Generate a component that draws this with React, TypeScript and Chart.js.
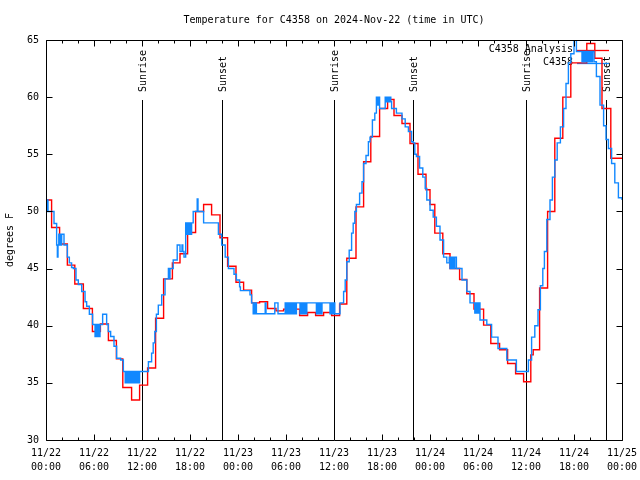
import React, { useEffect, useRef } from "react";
import { Chart, registerables } from "chart.js";

Chart.register(...registerables);

// ---- Data (hours since 2024-11-22 00:00 UTC, degrees F) ----
const dayLabels = ["11/22", "11/22", "11/22", "11/22", "11/23", "11/23", "11/23", "11/23", "11/24", "11/24", "11/24", "11/24", "11/25"];
const timeLabels = ["00:00", "06:00", "12:00", "18:00", "00:00", "06:00", "12:00", "18:00", "00:00", "06:00", "12:00", "18:00", "00:00"];

const sunriseHours = [12.03, 36.03, 60.05];
const sunsetHours = [22.03, 45.93, 69.95];

// C4358 Analysis (red)
const analysisHours = [0, 0.7, 1.7, 2.67, 3.6, 4.67, 5.8, 6.8, 7.8, 8.8, 9.6, 10.7, 11.7, 12.7, 13.7, 14.7, 15.8, 16.75, 17.7, 18.7, 19.7, 20.7, 21.75, 22.7, 23.75, 24.7, 25.7, 26.7, 27.7, 28.75, 29.7, 31.7, 32.7, 33.7, 34.7, 35.7, 36.7, 37.6, 38.75, 39.7, 40.6, 41.7, 42.7, 43.5, 44.5, 45.5, 46.5, 47.5, 48.0, 48.6, 49.6, 50.5, 51.7, 52.6, 53.5, 54.7, 55.6, 56.7, 57.7, 58.7, 59.7, 60.6, 60.9, 61.7, 62.7, 63.6, 64.6, 65.6, 67.6, 68.6, 69.5, 70.6, 72];
const analysisTemps = [51.0, 48.6, 47.15, 45.3, 43.65, 41.5, 39.5, 40.15, 38.7, 37.1, 34.6, 33.5, 34.8, 36.3, 40.65, 44.1, 45.5, 46.3, 48.15, 50.0, 50.6, 49.7, 47.7, 45.2, 43.8, 43.1, 42.0, 42.1, 41.5, 41.3, 41.45, 40.9, 41.15, 40.9, 41.15, 40.9, 41.9, 45.9, 50.4, 54.35, 56.55, 59.0, 59.8, 58.4, 57.7, 55.95, 53.25, 51.9, 50.6, 48.1, 46.3, 45.0, 44.05, 42.8, 41.45, 40.05, 38.45, 37.9, 36.7, 35.8, 35.1, 37.45, 37.9, 43.3, 50.0, 56.4, 60.0, 63.0, 64.7, 63.4, 59.0, 54.65, 54.65];

// C4358 observations (blue): [hour, temp]
const observed: [number, number][] = [
  [0, 51.0], [0.12, 50.0], [0.17, 51.0], [0.25, 50.0],
  [1.0, 48.95], [1.33, 47.06], [1.42, 46.0], [1.5, 47.06], [1.6, 48.0], [1.68, 47.06], [1.8, 48.0], [1.88, 47.06], [1.96, 48.0],
  [2.25, 47.06], [2.67, 46.0], [2.92, 45.5], [3.2, 45.1], [3.42, 45.0], [3.75, 44.0], [4.04, 43.6], [4.46, 43.0], [4.88, 42.1],
  [5.08, 41.7], [5.42, 41.0], [5.83, 40.1], [6.13, 39.05], [6.25, 40.1], [6.38, 39.05], [6.5, 40.1], [6.62, 39.05], [6.75, 40.1],
  [7.08, 41.0], [7.58, 40.1], [7.79, 39.5], [8.08, 39.05], [8.5, 38.2], [8.83, 37.15], [9.33, 37.0], [9.67, 36.0],
  [9.9, 35.0], [10.0, 36.0], [10.12, 35.0], [10.2, 36.0], [10.35, 35.0], [10.45, 36.0], [10.6, 35.0], [10.7, 36.0],
  [10.85, 35.0], [10.95, 36.0], [11.1, 35.0], [11.2, 36.0], [11.35, 35.0], [11.45, 36.0], [11.6, 35.0], [11.7, 36.0],
  [12.8, 36.85], [13.2, 37.6], [13.4, 38.5], [13.6, 39.5], [13.8, 41.0], [14.04, 41.8], [14.46, 42.7], [14.88, 44.1],
  [15.3, 45.0], [15.4, 44.1], [15.5, 45.0], [15.9, 45.75], [16.4, 47.06], [16.75, 46.5], [17.0, 47.06], [17.1, 46.5], [17.25, 46.0],
  [17.46, 49.0], [17.6, 48.0], [17.7, 49.0], [17.85, 48.0], [17.95, 49.0], [18.1, 48.0], [18.2, 49.0], [18.4, 50.0],
  [18.9, 51.1], [19.0, 50.0], [19.7, 49.0], [21.55, 48.0], [21.96, 47.06], [22.4, 46.0], [22.8, 45.0], [23.5, 44.5],
  [23.8, 44.0], [24.2, 43.4], [24.3, 43.07], [25.5, 42.7], [25.7, 42.0],
  [25.9, 41.05], [26.0, 42.0], [26.1, 41.05], [26.2, 42.0], [26.3, 41.05],
  [27.4, 42.0], [27.5, 41.05], [28.6, 42.0], [29.0, 41.05],
  [29.9, 42.0], [30.0, 41.05], [30.1, 42.0], [30.2, 41.05], [30.3, 42.0], [30.4, 41.05], [30.5, 42.0], [30.6, 41.05],
  [30.7, 42.0], [30.8, 41.05], [30.9, 42.0], [31.0, 41.05], [31.1, 42.0], [31.2, 41.05], [31.3, 42.0],
  [31.75, 41.05], [31.85, 42.0], [31.95, 41.05], [32.05, 42.0], [32.15, 41.05], [32.25, 42.0], [32.35, 41.05], [32.45, 42.0], [32.55, 41.05], [32.6, 42.0],
  [33.8, 41.05], [33.9, 42.0], [34.0, 41.05], [34.1, 42.0], [34.2, 41.05], [34.3, 42.0], [34.4, 41.05], [34.5, 42.0],
  [35.5, 41.05], [35.6, 42.0], [35.7, 41.05], [35.8, 42.0], [35.9, 41.05], [36.0, 42.0], [36.1, 41.05],
  [36.75, 42.0], [37.2, 43.0], [37.4, 44.0], [37.6, 45.6], [37.9, 46.6], [38.2, 48.1], [38.4, 48.96], [38.6, 50.0],
  [38.8, 50.6], [39.2, 51.6], [39.5, 52.6], [39.7, 54.2], [40.0, 54.9], [40.3, 56.1], [40.5, 56.5], [40.8, 58.0],
  [41.1, 58.6], [41.3, 60.0], [41.45, 59.3], [41.55, 60.0], [41.7, 59.0],
  [42.4, 60.0], [42.5, 59.6], [42.6, 60.0], [42.7, 59.6], [42.8, 60.0], [42.9, 59.6], [43.0, 60.0], [43.1, 59.6],
  [43.2, 59.0], [43.8, 58.6], [44.5, 58.1], [44.9, 57.4], [45.3, 57.0], [45.7, 56.1], [45.9, 56.0], [46.1, 55.0],
  [46.3, 54.8], [46.7, 53.8], [47.1, 53.0], [47.4, 52.0], [47.6, 51.0], [48.0, 50.1], [48.4, 49.5], [48.8, 48.7],
  [49.25, 47.5], [49.7, 46.0], [50.1, 45.5], [50.4, 46.0], [50.5, 45.0], [50.6, 46.0], [50.75, 45.0], [50.85, 46.0],
  [51.0, 45.0], [51.1, 46.0], [51.3, 45.0], [52.0, 44.0], [52.6, 43.0], [53.0, 42.0],
  [53.6, 41.1], [53.7, 42.0], [53.8, 41.1], [53.9, 42.0], [54.0, 41.1], [54.1, 42.0], [54.25, 40.5],
  [55.1, 40.1], [55.7, 39.0], [56.5, 38.0], [57.6, 37.0], [58.8, 36.0], [60.3, 37.0], [60.7, 39.0], [61.1, 40.0],
  [61.5, 41.4], [61.8, 43.5], [62.1, 45.0], [62.3, 46.5], [62.6, 49.3], [63.0, 51.0], [63.3, 53.0], [63.6, 54.5],
  [63.9, 56.0], [64.3, 57.4], [64.7, 59.0], [65.0, 61.2], [65.3, 63.0], [65.6, 63.8], [66.0, 66.0], [66.3, 64.0],
  [67.0, 63.1], [67.1, 64.0], [67.2, 63.1], [67.3, 64.0], [67.4, 63.1], [67.5, 64.0], [67.6, 63.1], [67.7, 64.0],
  [67.8, 63.1], [67.9, 64.0], [68.0, 63.1], [68.1, 64.0], [68.2, 63.1], [68.3, 64.0], [68.5, 63.1],
  [68.8, 61.8], [69.25, 59.3], [69.7, 57.5], [70.0, 56.3], [70.3, 55.5], [70.7, 54.2], [71.1, 52.5], [71.55, 51.2], [72.0, 51.0],
];

const FONT = '10px "DejaVu Sans Mono", monospace';
const RED = "#ff0000";
const BLUE = "#1188ff";

const gnuplotDecor = {
  id: "gnuplotDecor",
  beforeDatasetsDraw(chart: any) {
    const { ctx, chartArea: a, scales } = chart;
    const xs = scales.x;
    ctx.save();
    ctx.strokeStyle = "#000";
    ctx.fillStyle = "#000";
    ctx.lineWidth = 1;
    ctx.font = FONT;
    const marks: [number, string][] = [
      ...sunriseHours.map((h) => [h, "Sunrise"] as [number, string]),
      ...sunsetHours.map((h) => [h, "Sunset"] as [number, string]),
    ];
    for (const [h, label] of marks) {
      const px = Math.round(xs.getPixelForValue(h)) + 0.5;
      ctx.beginPath();
      ctx.moveTo(px, a.top + 60);
      ctx.lineTo(px, a.bottom);
      ctx.stroke();
      ctx.save();
      ctx.translate(px + 1, a.top + 52);
      ctx.rotate(-Math.PI / 2);
      ctx.textAlign = "left";
      ctx.textBaseline = "middle";
      ctx.fillText(label, 0, 0);
      ctx.restore();
    }
    // key
    chart.data.datasets.forEach((ds: any, i: number) => {
      const y = a.top + 9.5 + i * 13;
      ctx.textAlign = "right";
      ctx.textBaseline = "middle";
      ctx.fillStyle = "#000";
      ctx.fillText(ds.label, a.right - 49, y);
      ctx.strokeStyle = ds.borderColor;
      ctx.lineWidth = 1.3;
      ctx.beginPath();
      ctx.moveTo(a.right - 45, Math.round(y) + 0.5);
      ctx.lineTo(a.right - 13, Math.round(y) + 0.5);
      ctx.stroke();
    });
    ctx.restore();
  },
  afterDatasetsDraw(chart: any) {
    const { ctx, chartArea: a, scales } = chart;
    const xs = scales.x;
    const ys = scales.y;
    ctx.save();
    ctx.strokeStyle = "#000";
    ctx.lineWidth = 1;
    const L = Math.round(a.left) + 0.5;
    const R = Math.round(a.right) + 0.5;
    const T = Math.round(a.top) + 0.5;
    const B = Math.round(a.bottom) + 0.5;
    ctx.beginPath();
    ctx.rect(L, T, R - L, B - T);
    ctx.stroke();
    ctx.beginPath();
    for (let h = 0; h <= 72; h += 2) {
      const px = Math.round(xs.getPixelForValue(h)) + 0.5;
      const len = h % 6 === 0 ? 6 : 3;
      ctx.moveTo(px, B);
      ctx.lineTo(px, B - len);
      ctx.moveTo(px, T);
      ctx.lineTo(px, T + len);
    }
    for (let v = 30; v <= 65; v += 5) {
      const py = Math.round(ys.getPixelForValue(v)) + 0.5;
      ctx.moveTo(L, py);
      ctx.lineTo(L + 6, py);
      ctx.moveTo(R, py);
      ctx.lineTo(R - 6, py);
    }
    ctx.stroke();
    // titles
    ctx.fillStyle = "#000";
    ctx.font = FONT;
    ctx.textAlign = "center";
    ctx.textBaseline = "middle";
    ctx.fillText("Temperature for C4358 on 2024-Nov-22 (time in UTC)", (a.left + a.right) / 2, 20);
    ctx.save();
    ctx.translate(10, (a.top + a.bottom) / 2);
    ctx.rotate(-Math.PI / 2);
    ctx.fillText("degrees F", 0, 0);
    ctx.restore();
    ctx.restore();
  },
};

export default function App() {
  const ref = useRef<HTMLCanvasElement>(null);
  useEffect(() => {
    const chart = new Chart(ref.current as HTMLCanvasElement, {
      type: "line",
      data: {
        datasets: [
          {
            label: "C4358 Analysis",
            data: analysisHours.map((h, i) => ({ x: h, y: analysisTemps[i] })),
            borderColor: RED,
            backgroundColor: RED,
            borderWidth: 1.4,
            pointRadius: 0,
            stepped: true,
            order: 2,
          },
          {
            label: "C4358",
            data: observed.map(([h, t]) => ({ x: h, y: t })),
            borderColor: BLUE,
            backgroundColor: BLUE,
            borderWidth: 1.4,
            pointRadius: 0,
            stepped: true,
            order: 1,
          },
        ],
      },
      options: {
        responsive: false,
        animation: false,
        devicePixelRatio: 1,
        layout: { autoPadding: false, padding: { top: 40, right: 18, left: 0, bottom: 0 } },
        plugins: { legend: { display: false }, tooltip: { enabled: false }, title: { display: false } },
        scales: {
          x: {
            type: "linear",
            min: 0,
            max: 72,
            afterFit: (s: any) => { s.height = 40; s.paddingLeft = 0; s.paddingRight = 0; },
            grid: { display: false, drawTicks: false },
            border: { display: false },
            ticks: {
              stepSize: 6,
              maxRotation: 0,
              autoSkip: false,
              padding: 6,
              color: "#000",
              font: { family: '"DejaVu Sans Mono", monospace', size: 10, lineHeight: 1.4 },
              callback: (v: any) => {
                const i = Math.round(Number(v) / 6);
                return [dayLabels[i], timeLabels[i]];
              },
            },
          },
          y: {
            type: "linear",
            min: 30,
            max: 65,
            afterFit: (s: any) => { s.width = 46; s.paddingTop = 0; s.paddingBottom = 0; },
            grid: { display: false, drawTicks: false },
            border: { display: false },
            ticks: {
              stepSize: 5,
              padding: 7,
              color: "#000",
              font: { family: '"DejaVu Sans Mono", monospace', size: 10 },
            },
          },
        },
      },
      plugins: [gnuplotDecor],
    });
    return () => chart.destroy();
  }, []);
  return (
    <div style={{ position: "absolute", left: 0, top: 0, width: 640, height: 480, background: "#fff" }}>
      <canvas ref={ref} width={640} height={480} style={{ width: 640, height: 480, display: "block" }} />
    </div>
  );
}
